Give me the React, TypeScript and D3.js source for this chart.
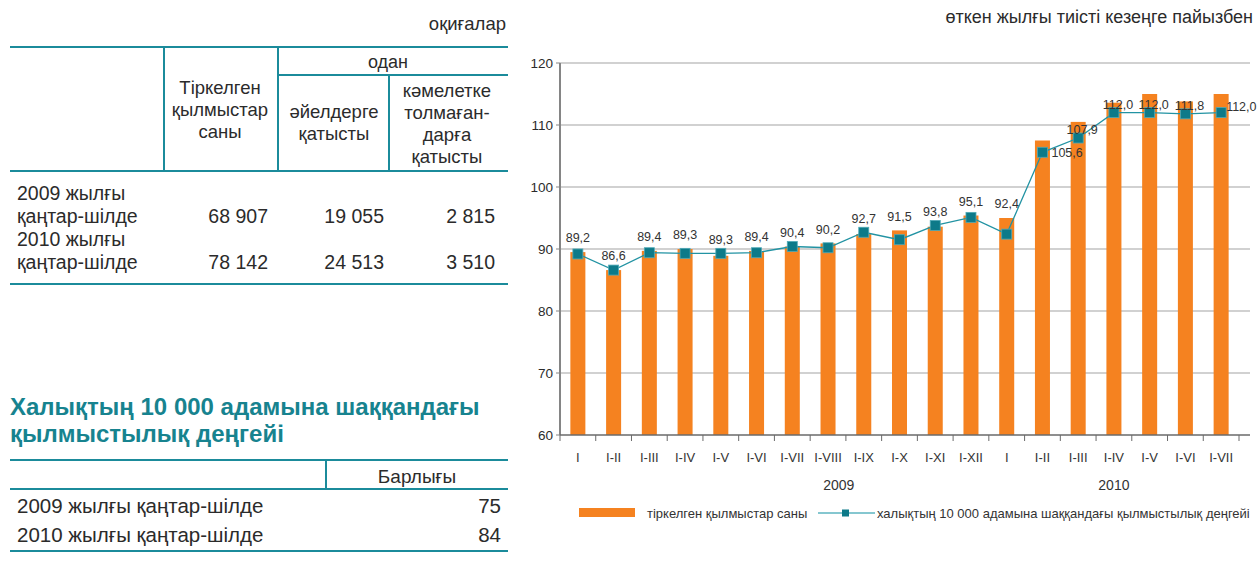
import React, { useEffect, useRef } from "react";
import * as d3 from "d3";

// categories along the x axis (2009: I..I-XII, 2010: I..I-VII)
const periods = [
  "I", "I-II", "I-III", "I-IV", "I-V", "I-VI", "I-VII", "I-VIII", "I-IX", "I-X", "I-XI", "I-XII",
  "I", "I-II", "I-III", "I-IV", "I-V", "I-VI", "I-VII",
];
// тіркелген қылмыстар саны (bars)
const crimeCount = [
  89.5, 86.6, 89.7, 90.0, 88.9, 89.7, 90.4, 90.9, 92.4, 93.0, 93.6, 95.4,
  95.0, 107.5, 110.5, 113.6, 115.0, 113.8, 115.0,
];
// халықтың 10 000 адамына шаққандағы қылмыстылық деңгейі (line, labelled)
const crimeRate = [
  89.2, 86.6, 89.4, 89.3, 89.3, 89.4, 90.4, 90.2, 92.7, 91.5, 93.8, 95.1,
  92.4, 105.6, 107.9, 112.0, 112.0, 111.8, 112.0,
];
const yTicks = [60, 70, 80, 90, 100, 110, 120];
const years = ["2009", "2010"];

// left tables
const headCols = [
  ["Тіркелген", "қылмыстар", "саны"],
  ["әйелдерге", "қатысты"],
  ["кәмелетке", "толмаған-", "дарға", "қатысты"],
];
const rowLabels = [
  ["2009 жылғы", "қаңтар-шілде"],
  ["2010 жылғы", "қаңтар-шілде"],
];
const rowValues = [
  ["68 907", "19 055", "2 815"],
  ["78 142", "24 513", "3 510"],
];
const rateRows = ["2009 жылғы қаңтар-шілде", "2010 жылғы қаңтар-шілде"];
const rateValues = ["75", "84"];

const ORANGE = "#f58220";
const TEAL = "#1b8b9b";
const MARK = "#0d7a89";
const TXT = "#2b2b2b";
const FONT = "'Liberation Sans', Arial, sans-serif";

const fmt = (v: number) => v.toFixed(1).replace(".", ",");

const App = () => {
  const svgRef = useRef<SVGSVGElement>(null);

  useEffect(() => {
    const width = 1259;
    const height = 570;
    const svg = d3
      .select(svgRef.current)
      .attr("width", width)
      .attr("height", height)
      .style("font-family", FONT)
      .style("background", "#fff");
    svg.selectAll("*").remove();

    const rule = (x1: number, x2: number, y1: number, y2: number) =>
      svg
        .append("line")
        .attr("x1", x1)
        .attr("x2", x2)
        .attr("y1", y1)
        .attr("y2", y2)
        .attr("stroke", TEAL)
        .attr("stroke-width", 2);

    const text = (
      x: number,
      y: number,
      s: string,
      size: number,
      anchor = "start",
      fill = TXT
    ) =>
      svg
        .append("text")
        .attr("x", x)
        .attr("y", y)
        .attr("dy", "0.35em")
        .attr("text-anchor", anchor)
        .style("font-size", size + "px")
        .attr("fill", fill)
        .text(s);

    // ---------- table 1 ----------
    text(506, 24, "оқиғалар", 18.5, "end");
    rule(10, 508, 47, 47);
    rule(278, 508, 75, 75);
    rule(10, 508, 171, 171);
    rule(10, 508, 284, 284);
    rule(164, 164, 47, 171);
    rule(278, 278, 47, 171);
    rule(389, 389, 75, 171);
    text(388, 62, "одан", 18, "middle");

    const headX = [220, 334, 447];
    const headY = [88, 112, 91];
    headCols.forEach((lines, c) =>
      lines.forEach((l, k) => text(headX[c], headY[c] + k * 21.7, l, 18.5, "middle"))
    );

    const numX = [268, 384, 495];
    rowLabels.forEach((lines, r) => {
      const y0 = 193 + r * 46.5;
      lines.forEach((l, k) => text(17, y0 + k * 23, l, 19.5));
      rowValues[r].forEach((v, c) => text(numX[c], y0 + 23, v, 19.5, "end"));
    });

    // ---------- title + table 2 ----------
    const title = svg
      .append("text")
      .attr("x", 10)
      .attr("y", 407)
      .attr("fill", "#17838f")
      .style("font-size", "24px")
      .style("font-weight", "bold");
    title.append("tspan").attr("x", 10).attr("dy", "0.35em").text("Халықтың 10 000 адамына шаққандағы");
    title.append("tspan").attr("x", 10).attr("dy", "27px").text("қылмыстылық деңгейі");

    rule(10, 508, 460, 460);
    rule(10, 508, 489, 489);
    rule(10, 508, 551, 551);
    rule(326, 326, 460, 489);
    text(417, 476, "Барлығы", 19, "middle");
    rateRows.forEach((l, r) => {
      text(17, 506 + r * 29, l, 20.5);
      text(501, 506 + r * 29, rateValues[r], 20.5, "end");
    });

    // ---------- chart ----------
    text(1253, 17, "өткен жылғы тиісті кезеңге пайызбен", 18, "end");

    const idx = periods.map((_, i) => i);
    const x = d3.scaleBand<number>().domain(idx).range([560, 1239]).padding(0);
    const y = d3.scaleLinear().domain([60, 120]).range([435, 63]);
    const bw = x.bandwidth();
    const cx = (i: number) => (x(i) as number) + bw / 2;
    const chart = svg.append("g");

    // gridlines
    chart
      .selectAll("line.grid")
      .data(yTicks.slice(1))
      .join("line")
      .attr("x1", 560)
      .attr("x2", 1250)
      .attr("y1", (d) => y(d))
      .attr("y2", (d) => y(d))
      .attr("stroke", "#a3a3a3")
      .attr("stroke-width", 1.2);

    // bars
    const barW = bw * 0.42;
    chart
      .selectAll("rect.bar")
      .data(crimeCount)
      .join("rect")
      .attr("x", (_, i) => cx(i) - barW / 2)
      .attr("y", (d) => y(d))
      .attr("width", barW)
      .attr("height", (d) => y(60) - y(d))
      .attr("fill", ORANGE);

    // y axis
    chart
      .append("line")
      .attr("x1", 560)
      .attr("x2", 560)
      .attr("y1", y(120))
      .attr("y2", y(60))
      .attr("stroke", "#858585")
      .attr("stroke-width", 2);
    yTicks.forEach((t) => {
      chart
        .append("line")
        .attr("x1", 556)
        .attr("x2", 560)
        .attr("y1", y(t))
        .attr("y2", y(t))
        .attr("stroke", "#858585");
      text(553, y(t), String(t), 13.5, "end");
    });

    // x axis
    chart
      .append("line")
      .attr("x1", 560)
      .attr("x2", 1250)
      .attr("y1", y(60))
      .attr("y2", y(60))
      .attr("stroke", "#6a6a6a")
      .attr("stroke-width", 1.5);
    d3.range(periods.length + 1).forEach((i) => {
      const tx = 560 + i * bw;
      chart
        .append("line")
        .attr("x1", tx)
        .attr("x2", tx)
        .attr("y1", y(60))
        .attr("y2", y(60) + 6)
        .attr("stroke", "#6a6a6a");
    });
    periods.forEach((p, i) => text(cx(i), 457, p, 13, "middle", "#333"));
    text((x(7) as number) + bw * 0.8, 485, years[0], 14, "middle", "#333");
    text(cx(15), 485, years[1], 14, "middle", "#333");

    // line + markers
    const line = d3
      .line<number>()
      .x((_, i) => cx(i))
      .y((d) => y(d));
    chart
      .append("path")
      .datum(crimeRate)
      .attr("d", line)
      .attr("fill", "none")
      .attr("stroke", "#2293a3")
      .attr("stroke-width", 1.3);
    chart
      .selectAll("rect.mark")
      .data(crimeRate)
      .join("rect")
      .attr("x", (_, i) => cx(i) - 5)
      .attr("y", (d) => y(d) - 5)
      .attr("width", 10)
      .attr("height", 10)
      .attr("fill", MARK)
      .attr("stroke", "#4fa9b6")
      .attr("stroke-width", 0.8);

    // value labels
    crimeRate.forEach((v, i) => {
      const my = y(v);
      let lx = cx(i);
      let ly = Math.min(my, y(crimeCount[i])) - 14;
      let anchor = "middle";
      if (i === 13) {
        lx = cx(i) + 9;
        ly = my;
        anchor = "start";
      } else if (i >= 14 && i <= 17) {
        lx = cx(i) + 4;
        ly = my - 8;
      } else if (i === 18) {
        lx = cx(i) + 5;
        ly = my - 6;
        anchor = "start";
      }
      text(lx, ly, fmt(v), 12.5, anchor, "#333");
    });

    // legend
    const lg = svg.append("g");
    lg.append("rect").attr("x", 579).attr("y", 508).attr("width", 56).attr("height", 9).attr("fill", ORANGE);
    text(647, 513, "тіркелген қылмыстар саны", 13, "start", "#333");
    lg.append("line")
      .attr("x1", 818)
      .attr("x2", 875)
      .attr("y1", 513)
      .attr("y2", 513)
      .attr("stroke", "#5db5c1")
      .attr("stroke-width", 1.5);
    lg.append("rect").attr("x", 842).attr("y", 509.5).attr("width", 7).attr("height", 7).attr("fill", MARK);
    text(877, 513, "халықтың 10 000 адамына шаққандағы қылмыстылық деңгейі", 13, "start", "#333");
  }, []);

  return <svg ref={svgRef} style={{ display: "block", position: "absolute", left: 0, top: 0 }}></svg>;
};

export default App;
